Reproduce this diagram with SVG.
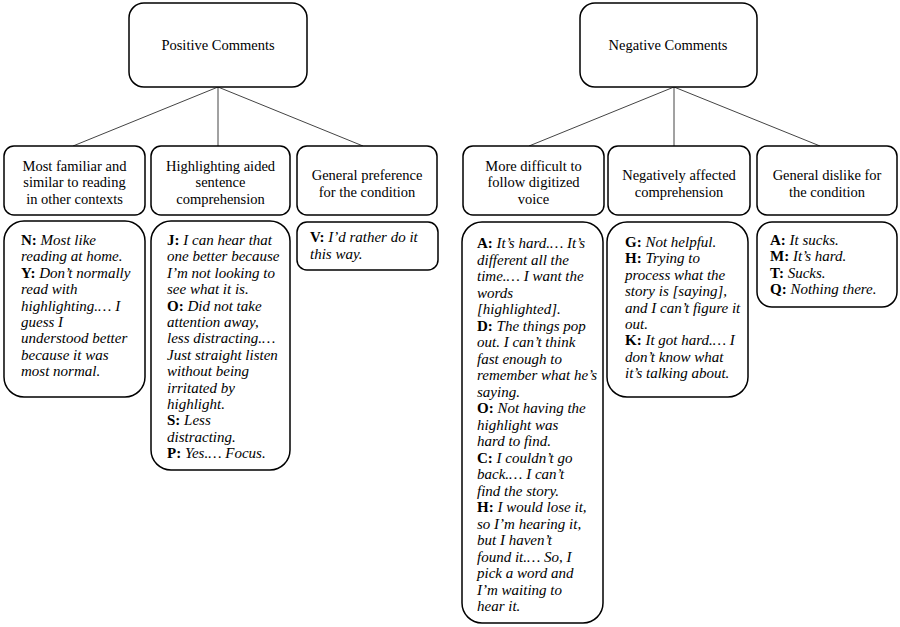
<svg xmlns="http://www.w3.org/2000/svg" width="900" height="627" viewBox="0 0 900 627">
<style>
.box{fill:#fff;stroke:#000;stroke-width:1.5}
.t{font-family:"Liberation Serif","Times New Roman",serif;font-size:14.5px;fill:#000}
.q .t{font-size:15px}
.c{text-anchor:middle}
.b{font-weight:bold;font-style:normal}
.i{font-style:italic}
.con{stroke:#444;stroke-width:1;fill:none}
</style>
<rect width="900" height="627" fill="#fff"/>
<g id="connectors">
<line class="con" x1="218" y1="87" x2="73" y2="146"/>
<line class="con" x1="218" y1="87" x2="218" y2="146"/>
<line class="con" x1="218" y1="87" x2="363" y2="146"/>
<line class="con" x1="674" y1="87" x2="529" y2="146"/>
<line class="con" x1="674" y1="87" x2="674" y2="146"/>
<line class="con" x1="674" y1="87" x2="820" y2="146"/>
</g>
<g id="positive">
<rect class="box" x="129" y="3" width="178" height="84" rx="15"/>
<text class="t c" x="218" y="50">Positive Comments</text>
</g>
<g id="negative">
<rect class="box" x="580" y="3" width="177" height="84" rx="15"/>
<text class="t c" x="668" y="50">Negative Comments</text>
</g>
<g id="cat-familiar">
<rect class="box" x="4" y="146" width="141" height="69" rx="10"/>
<text class="t c" x="74.5" y="170.5">Most familiar and</text>
<text class="t c" x="74.5" y="187">similar to reading</text>
<text class="t c" x="74.5" y="203.5">in other contexts</text>
</g>
<g id="cat-highlighting">
<rect class="box" x="151" y="146" width="139" height="69" rx="10"/>
<text class="t c" x="220.5" y="170.5">Highlighting aided</text>
<text class="t c" x="220.5" y="187">sentence</text>
<text class="t c" x="220.5" y="203.5">comprehension</text>
</g>
<g id="cat-preference">
<rect class="box" x="297" y="146" width="140" height="69" rx="10"/>
<text class="t c" x="367" y="180">General preference</text>
<text class="t c" x="367" y="197">for the condition</text>
</g>
<g id="cat-difficult">
<rect class="box" x="463" y="146" width="141" height="69" rx="10"/>
<text class="t c" x="533.5" y="170.5">More difficult to</text>
<text class="t c" x="533.5" y="187">follow digitized</text>
<text class="t c" x="533.5" y="203.5">voice</text>
</g>
<g id="cat-comprehension">
<rect class="box" x="608" y="146" width="142" height="69" rx="10"/>
<text class="t c" x="679" y="180">Negatively affected</text>
<text class="t c" x="679" y="197">comprehension</text>
</g>
<g id="cat-dislike">
<rect class="box" x="757" y="146" width="140" height="69" rx="10"/>
<text class="t c" x="827" y="180">General dislike for</text>
<text class="t c" x="827" y="197">the condition</text>
</g>
<g id="quotes-familiar" class="q">
<rect class="box" x="4" y="221" width="141" height="176" rx="20"/>
<text class="t" x="21" y="245"><tspan class="b">N:</tspan> <tspan class="i">Most like</tspan></text>
<text class="t i" x="21" y="261.4">reading at home.</text>
<text class="t" x="21" y="277.8"><tspan class="b">Y:</tspan> <tspan class="i">Don’t normally</tspan></text>
<text class="t i" x="21" y="294.2">read with</text>
<text class="t i" x="21" y="310.6">highlighting.… I</text>
<text class="t i" x="21" y="327">guess I</text>
<text class="t i" x="21" y="343.4">understood better</text>
<text class="t i" x="21" y="359.8">because it was</text>
<text class="t i" x="21" y="376.2">most normal.</text>
</g>
<g id="quotes-highlighting" class="q">
<rect class="box" x="151" y="221" width="139" height="249" rx="20"/>
<text class="t" x="167" y="245"><tspan class="b">J:</tspan> <tspan class="i">I can hear that</tspan></text>
<text class="t i" x="167" y="261.4">one better because</text>
<text class="t i" x="167" y="277.8">I’m not looking to</text>
<text class="t i" x="167" y="294.2">see what it is.</text>
<text class="t" x="167" y="310.6"><tspan class="b">O:</tspan> <tspan class="i">Did not take</tspan></text>
<text class="t i" x="167" y="327">attention away,</text>
<text class="t i" x="167" y="343.4">less distracting.…</text>
<text class="t i" x="167" y="359.8">Just straight listen</text>
<text class="t i" x="167" y="376.2">without being</text>
<text class="t i" x="167" y="392.6">irritated by</text>
<text class="t i" x="167" y="409">highlight.</text>
<text class="t" x="167" y="425.4"><tspan class="b">S:</tspan> <tspan class="i">Less</tspan></text>
<text class="t i" x="167" y="441.8">distracting.</text>
<text class="t" x="167" y="458.2"><tspan class="b">P:</tspan> <tspan class="i">Yes.… Focus.</tspan></text>
</g>
<g id="quotes-preference" class="q">
<rect class="box" x="297" y="222" width="141" height="48" rx="10"/>
<text class="t" x="310" y="242"><tspan class="b">V:</tspan> <tspan class="i">I’d rather do it</tspan></text>
<text class="t i" x="310" y="258.5">this way.</text>
</g>
<g id="quotes-difficult" class="q">
<rect class="box" x="462" y="222" width="141" height="401" rx="20"/>
<text class="t" x="477" y="248"><tspan class="b">A:</tspan> <tspan class="i">It’s hard.… It’s</tspan></text>
<text class="t i" x="477" y="264.5">different all the</text>
<text class="t i" x="477" y="281">time.… I want the</text>
<text class="t i" x="477" y="297.5">words</text>
<text class="t i" x="477" y="314">[highlighted].</text>
<text class="t" x="477" y="330.5"><tspan class="b">D:</tspan> <tspan class="i">The things pop</tspan></text>
<text class="t i" x="477" y="347">out. I can’t think</text>
<text class="t i" x="477" y="363.5">fast enough to</text>
<text class="t i" x="477" y="380">remember what he’s</text>
<text class="t i" x="477" y="396.5">saying.</text>
<text class="t" x="477" y="413"><tspan class="b">O:</tspan> <tspan class="i">Not having the</tspan></text>
<text class="t i" x="477" y="429.5">highlight was</text>
<text class="t i" x="477" y="446">hard to find.</text>
<text class="t" x="477" y="462.5"><tspan class="b">C:</tspan> <tspan class="i">I couldn’t go</tspan></text>
<text class="t i" x="477" y="479">back.… I can’t</text>
<text class="t i" x="477" y="495.5">find the story.</text>
<text class="t" x="477" y="512"><tspan class="b">H:</tspan> <tspan class="i">I would lose it,</tspan></text>
<text class="t i" x="477" y="528.5">so I’m hearing it,</text>
<text class="t i" x="477" y="545">but I haven’t</text>
<text class="t i" x="477" y="561.5">found it.… So, I</text>
<text class="t i" x="477" y="578">pick a word and</text>
<text class="t i" x="477" y="594.5">I’m waiting to</text>
<text class="t i" x="477" y="611">hear it.</text>
</g>
<g id="quotes-comprehension" class="q">
<rect class="box" x="607" y="222" width="141" height="175" rx="20"/>
<text class="t" x="625" y="247"><tspan class="b">G:</tspan> <tspan class="i">Not helpful.</tspan></text>
<text class="t" x="625" y="263.4"><tspan class="b">H:</tspan> <tspan class="i">Trying to</tspan></text>
<text class="t i" x="625" y="279.8">process what the</text>
<text class="t i" x="625" y="296.2">story is [saying],</text>
<text class="t i" x="625" y="312.6">and I can’t figure it</text>
<text class="t i" x="625" y="329">out.</text>
<text class="t" x="625" y="345.4"><tspan class="b">K:</tspan> <tspan class="i">It got hard.… I</tspan></text>
<text class="t i" x="625" y="361.8">don’t know what</text>
<text class="t i" x="625" y="378.2">it’s talking about.</text>
</g>
<g id="quotes-dislike" class="q">
<rect class="box" x="757" y="222" width="140" height="85" rx="15"/>
<text class="t" x="770" y="245"><tspan class="b">A:</tspan> <tspan class="i">It sucks.</tspan></text>
<text class="t" x="770" y="261.3"><tspan class="b">M:</tspan> <tspan class="i">It’s hard.</tspan></text>
<text class="t" x="770" y="277.6"><tspan class="b">T:</tspan> <tspan class="i">Sucks.</tspan></text>
<text class="t" x="770" y="293.9"><tspan class="b">Q:</tspan> <tspan class="i">Nothing there.</tspan></text>
</g>
</svg>
